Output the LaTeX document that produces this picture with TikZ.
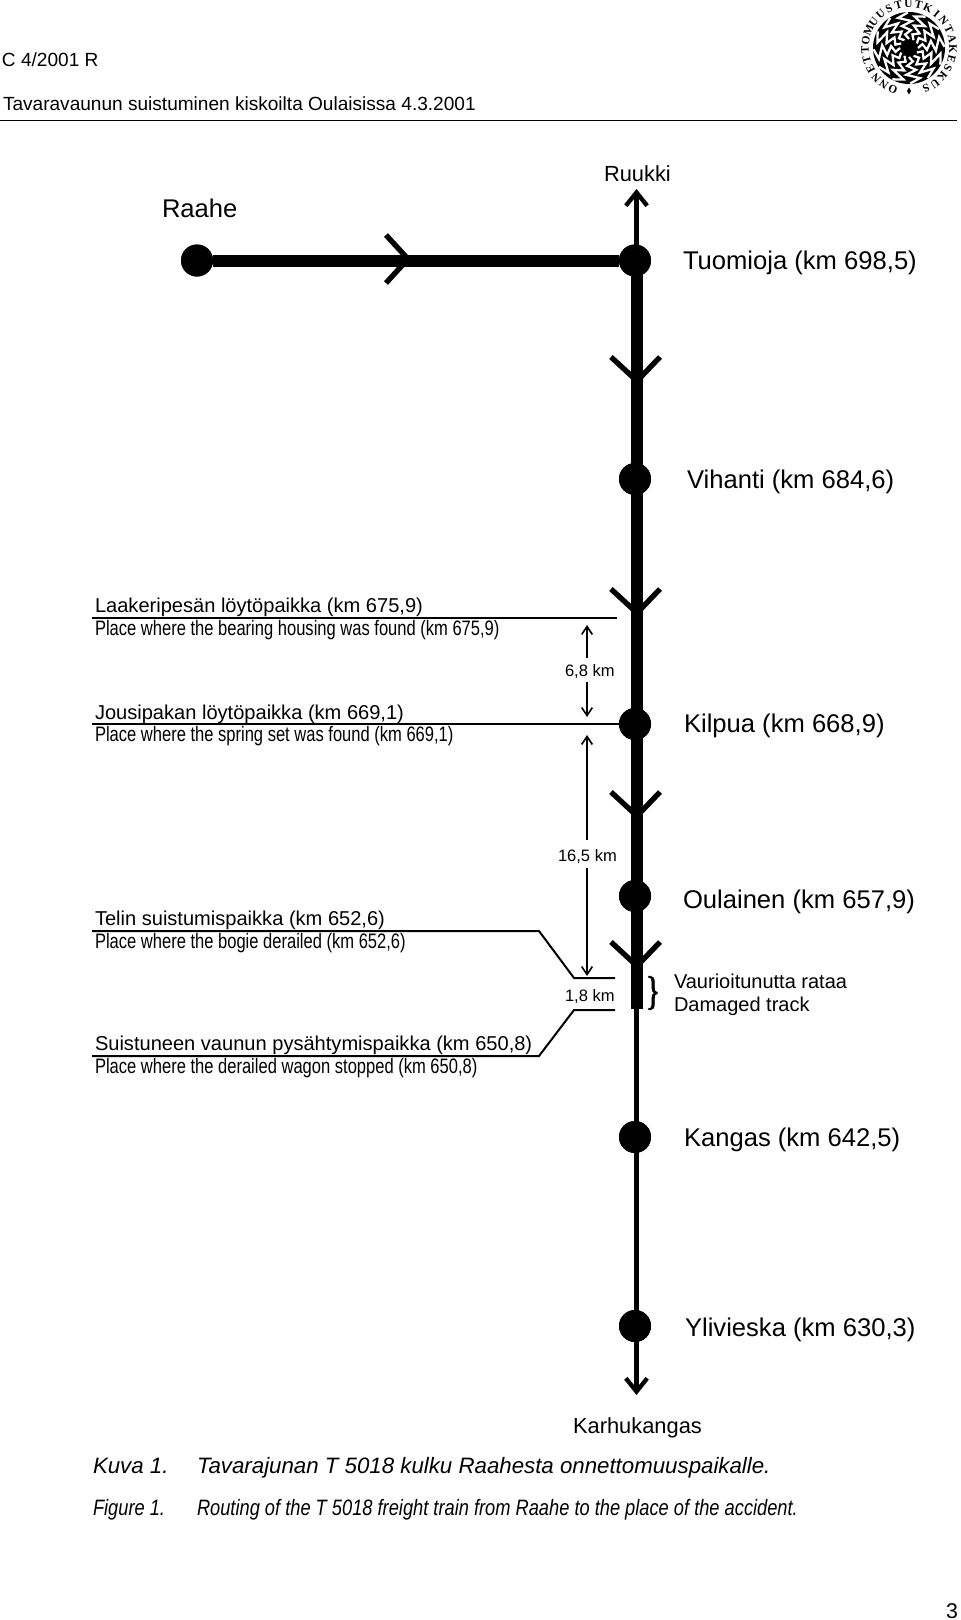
\documentclass[tikz,border=0pt]{standalone}
\usepackage{fontspec}
\usepackage{graphicx}
\usetikzlibrary{arrows.meta,calc}
\setmainfont{Liberation Sans}
\newfontfamily\condf[FakeStretch=0.79]{Liberation Sans}
\newfontfamily\condi[FakeStretch=0.82,UprightFont=*,ItalicFont=* Italic]{Liberation Sans}
\newfontfamily\logof{Liberation Serif}
\newfontfamily\bracef[FakeBold=2.5]{Liberation Serif}
\tikzset{
  txt/.style={anchor=base west,inner sep=0pt,outer sep=0pt},
  head/.style={txt,font=\fontsize{14.3}{16}\selectfont},
  station/.style={txt,font=\fontsize{19.2}{23}\selectfont},
  place/.style={txt,font=\fontsize{15.05}{18}\selectfont},
  placeen/.style={txt,font=\condf\fontsize{15.7}{18}\selectfont},
  kmlabel/.style={txt,font=\fontsize{12.4}{15}\selectfont},
  endname/.style={txt,font=\fontsize{16.4}{19}\selectfont},
  note/.style={txt,font=\fontsize{15}{18}\selectfont},
  capfi/.style={txt,font=\itshape\fontsize{16.7}{19}\selectfont},
  capen/.style={txt,font=\condi\itshape\fontsize{16.7}{19}\selectfont},
  dot/.style={circle,fill=black,inner sep=0pt,outer sep=0pt,minimum size=24pt},
  thick line/.style={line width=9pt,black},
  thin line/.style={line width=3.4pt,black},
  chev/.style={line width=4pt,black,line join=miter},
  rule/.style={line width=1.5pt,black},
  dim/.style={line width=1.1pt,black,-{Straight Barb[length=6pt,width=8pt,line width=1.2pt]}},
  bigarrow/.style={thin line,-{Straight Barb[length=10pt,width=16pt,line width=3.2pt]}},
  logoletter/.style={inner sep=0pt,font=\logof\bfseries\fontsize{8.5}{8.5}\selectfont},
}
\begin{document}
\begin{tikzpicture}[x=0.75pt,y=-0.75pt]
\useasboundingbox (0,0) rectangle (960,1620);
\fill[white] (0,0) rectangle (960,1620);

% header
\node[head] (hcode) at (2,67) {C 4/2001 R};
\node[head] (htitle) at (3,110) {Tavaravaunun suistuminen kiskoilta Oulaisissa 4.3.2001};
\coordinate (hl) at (0,120.5);
\coordinate (hr) at (957,120.5);
\draw[line width=0.9pt] (hl) -- (hr);

% logo
\fill[black] (909,48) circle[radius=36];
\foreach \k in {0,...,11}{
  \pgfmathsetmacro{\a}{\k*360/12}
  \draw[white,line width=1.7pt,line join=miter]
    ({909+9*cos(\a)},{48-9*sin(\a)})
    -- ({909+14*cos(\a+16)},{48-14*sin(\a+16)})
    -- ({909+18*cos(\a-6)},{48-18*sin(\a-6)})
    -- ({909+23*cos(\a+18)},{48-23*sin(\a+18)})
    -- ({909+27*cos(\a-6)},{48-27*sin(\a-6)})
    -- ({909+32*cos(\a+20)},{48-32*sin(\a+20)})
    -- ({909+35.5*cos(\a+2)},{48-35.5*sin(\a+2)});
}
\fill[black] (909,48) circle[radius=8];
\foreach \c [count=\i from 0] in {O,N,N,E,T,T,O,M,U,U,S,T,U,T,K,I,N,T,A,K,E,S,K,U,S}{
  \pgfmathsetmacro{\a}{248.5-\i*13.15}
  \pgfmathsetmacro{\r}{\a-90}
  \node[logoletter,rotate=\r] (logo\i) at ({909+44*cos(\a)},{48-44*sin(\a)}) {\c};
}
\fill[black] (909,87.5) -- (911,91) -- (909,94.5) -- (907,91) -- cycle;

% stations
\node[dot] (raahe) at (197,260.5) {};
\node[dot] (tuomioja) at (635,260.5) {};
\node[dot] (vihanti) at (635,479) {};
\node[dot] (kilpua) at (635,724) {};
\node[dot] (oulainen) at (635,896) {};
\node[dot] (kangas) at (635,1137) {};
\node[dot] (ylivieska) at (635,1326) {};
\coordinate (toptip) at (636.5,189);
\coordinate (bottip) at (636.5,1395);
\coordinate (dmgend) at (636.5,1009);

\draw[thick line] (raahe) -- (tuomioja);
\draw[thick line] (tuomioja.center -| dmgend) -- (dmgend);
\draw[thin line] (dmgend) -- (ylivieska.center -| dmgend);
\draw[bigarrow] (tuomioja.north -| toptip) -- (toptip);
\draw[bigarrow] (ylivieska.south -| bottip) -- (bottip);
\node[dot] at (raahe) {};
\node[dot] at (tuomioja) {};
\node[dot] at (vihanti) {};
\node[dot] at (kilpua) {};
\node[dot] at (oulainen) {};
\node[dot] at (kangas) {};
\node[dot] at (ylivieska) {};

% chevrons
\coordinate (chh) at (408,259);
\draw[chev] (chh) ++(-22,-24) -- (chh) -- ++(-22,24);
\foreach \n/\yy in {a/381,b/613,c/816,d/966}{
  \coordinate (ch\n) at (637,\yy);
  \draw[chev] (ch\n) ++(-26,-24) -- (ch\n) -- ++(23,-24);
}

% names
\node[endname] (ruukki) at (604,181) {Ruukki};
\node[endname] (karhu) at (573,1433) {Karhukangas};
\node[station] (raahetxt) at (162,217) {Raahe};
\node[station] (tuotxt) at (683,269) {Tuomioja (km 698,5)};
\node[station] (vihtxt) at (687,488) {Vihanti (km 684,6)};
\node[station] (kiltxt) at (684,732) {Kilpua (km 668,9)};
\node[station] (oultxt) at (683,908) {Oulainen (km 657,9)};
\node[station] (kantxt) at (684,1146) {Kangas (km 642,5)};
\node[station] (ylitxt) at (685,1336) {Ylivieska (km 630,3)};

% places
\node[place] (p1) at (95,612) {Laakeripesän löytöpaikka (km 675,9)};
\node[placeen] (p1e) at (95,635) {Place where the bearing housing was found (km 675,9)};
\node[place] (p2) at (95,719) {Jousipakan löytöpaikka (km 669,1)};
\node[placeen] (p2e) at (95,741) {Place where the spring set was found (km 669,1)};
\node[place] (p3) at (95,925) {Telin suistumispaikka (km 652,6)};
\node[placeen] (p3e) at (95,948) {Place where the bogie derailed (km 652,6)};
\node[place] (p4) at (95,1050) {Suistuneen vaunun pysähtymispaikka (km 650,8)};
\node[placeen] (p4e) at (95,1073) {Place where the derailed wagon stopped (km 650,8)};

% rules
\coordinate (r1a) at (92,618); \coordinate (r1b) at (617,618);
\coordinate (r2a) at (92,724); \coordinate (r2b) at (kilpua.west);
\draw[rule] (r1a) -- (r1b);
\draw[rule] (r2a) -- (r2b);
\coordinate (r3a) at (92,931); \coordinate (r3b) at (539,931);
\coordinate (r3c) at (574,978); \coordinate (r3d) at (615,978);
\coordinate (r4a) at (92,1056); \coordinate (r4b) at (539,1056);
\coordinate (r4c) at (574,1010); \coordinate (r4d) at (615,1010);
\draw[rule] (r3a) -- (r3b) -- (r3c) -- (r3d);
\draw[rule] (r4a) -- (r4b) -- (r4c) -- (r4d);

% distances
\node[kmlabel] (d1) at (565,676) {6,8 km};
\node[kmlabel] (d2) at (558,861) {16,5 km};
\node[kmlabel] (d3) at (565,1001) {1,8 km};
\coordinate (a1t) at (587,625);
\coordinate (a2t) at (587,717);
\coordinate (a3t) at (587,735);
\coordinate (a4t) at (587,976);
\draw[dim] (587,658) -- (a1t);
\draw[dim] (587,682) -- (a2t);
\draw[dim] (587,840) -- (a3t);
\draw[dim] (587,868) -- (a4t);

% damaged
\node[inner sep=0pt,font=\bracef\fontsize{30}{30}\selectfont] (brace) at (653,993) {\scalebox{.72}[1]{\}}};
\node[note] (v1) at (674,988) {Vaurioitunutta rataa};
\node[note] (v2) at (674,1011) {Damaged track};

% caption
\node[capfi] (k1) at (93,1473) {Kuva 1.};
\node[capfi] (k2) at (197,1473) {Tavarajunan T 5018 kulku Raahesta onnettomuuspaikalle.};
\node[capen] (f1) at (93,1515) {Figure 1.};
\node[capen] (f2) at (197,1515) {Routing of the T 5018 freight train from Raahe to the place of the accident.};
\node[txt,font=\fontsize{16}{19}\selectfont] (pg) at (946,1618) {3};
\end{tikzpicture}
\end{document}
